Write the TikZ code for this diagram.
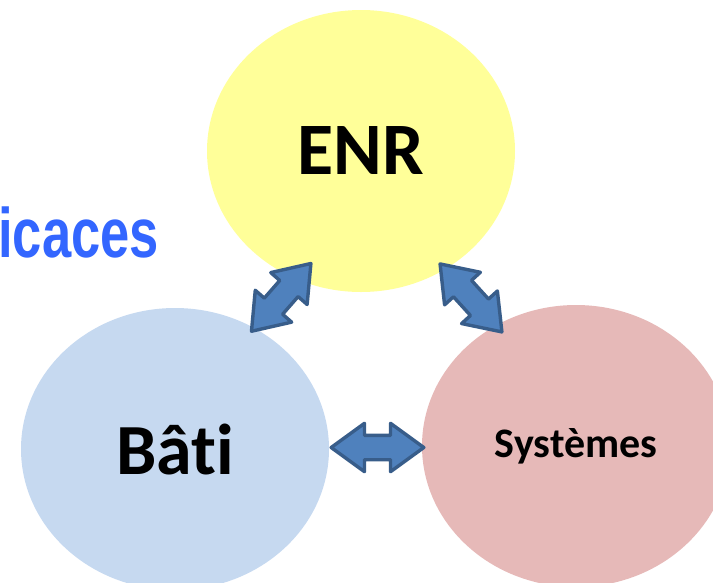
\documentclass[tikz,border=0pt]{standalone}
\usepackage{fontspec}
\setmainfont{Carlito}[Ligatures={NoCommon,NoRare}, Contextuals=NoAlternate]
\newfontfamily\headfont[FakeStretch=0.75]{Liberation Sans}
\usetikzlibrary{shapes.geometric, shapes.arrows, calc}
\definecolor{enryellow}{HTML}{FFFF99}
\definecolor{batiblue}{HTML}{C6D9F0}
\definecolor{sysrose}{HTML}{E6B9B8}
\definecolor{linkfill}{HTML}{4F81BD}
\definecolor{linkdraw}{HTML}{385D8A}
\definecolor{headblue}{HTML}{3366FF}

\begin{document}
\begin{tikzpicture}[x=1pt, y=-1pt,
    bubble/.style={ellipse, minimum width=308pt, minimum height=282pt, inner sep=0pt},
    link/.style={double arrow, draw=linkdraw, fill=linkfill, line width=3.4pt, line join=round, inner xsep=0pt, inner ysep=10.5pt, double arrow head extend=12pt, double arrow tip angle=72}
]
    \useasboundingbox (0,0) rectangle (713,582);
    \clip (0,0) rectangle (713,582);

    % Title, cut at the left edge
    \node[anchor=base east, inner sep=0pt, text=headblue, font=\headfont\bfseries\fontsize{70}{70}\selectfont] (title) at (159,257) {icaces};

    % Circles
    \node[bubble, fill=enryellow, font=\bfseries\fontsize{74}{74}\selectfont] (enr) at (361,151) {ENR};
    \node[bubble, fill=batiblue, font=\bfseries\fontsize{72}{72}\selectfont] (bati) at (175,449) {Bât\kern0pt i};
    \node[bubble, fill=sysrose, font=\bfseries\fontsize{42}{42}\selectfont] (sys) at (576,446) {Systèmes};

    % Ends of the double arrows
    \coordinate (l1) at ($(bati.center)!0.97!(bati.57)$);
    \coordinate (l2) at ($(enr.center)!0.86!(enr.246)$);
    \coordinate (r1) at ($(enr.center)!0.95!(enr.305)$);
    \coordinate (r2) at ($(sys.center)!0.94!(sys.123)$);
    \coordinate (h1) at ($(bati.east)+(2,0)$);
    \coordinate (h2) at ($(sys.west)+(2,0)$);

    % Double arrows
    \path let \p1=(l1), \p2=(l2), \n1={atan2(\y2-\y1,\x2-\x1)}, \n2={veclen(\x2-\x1,\y2-\y1)} in
        node[link, rotate=\n1, minimum height=\n2] (linkL) at ($(\p1)!0.5!(\p2)$) {};
    \path let \p1=(r1), \p2=(r2), \n1={atan2(\y2-\y1,\x2-\x1)}, \n2={veclen(\x2-\x1,\y2-\y1)} in
        node[link, rotate=\n1, minimum height=\n2] (linkR) at ($(\p1)!0.5!(\p2)$) {};
    \path let \p1=(h1), \p2=(h2), \n2={veclen(\x2-\x1,\y2-\y1)} in
        node[link, minimum height=\n2] (linkH) at ($(\p1)!0.5!(\p2)$) {};
\end{tikzpicture}
\end{document}
